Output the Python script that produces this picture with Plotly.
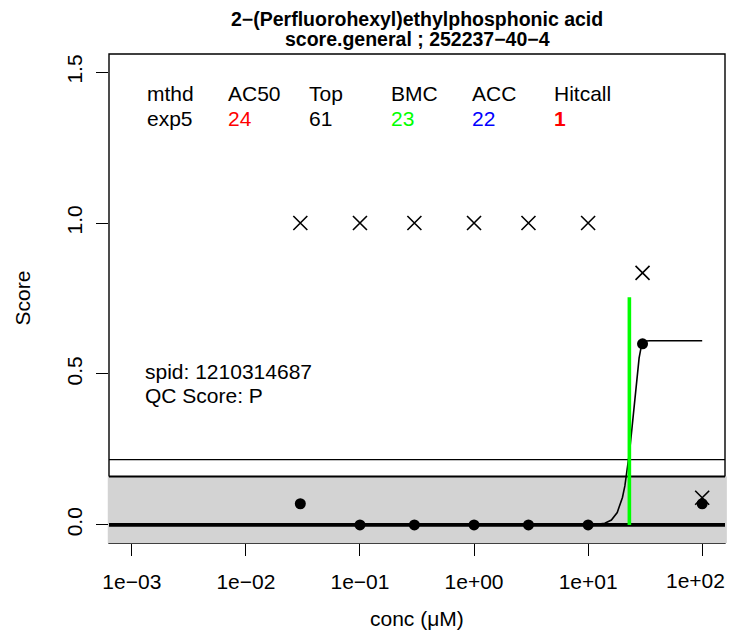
import plotly.graph_objects as go

# ---- data ----
conc_pts = [0.03, 0.1, 0.3, 1, 3, 10, 30, 100]
score_pts = [0.07, 0.0, 0.0, 0.0, 0.0, 0.0, 0.60, 0.07]          # filled dots
score_raw = [1.0, 1.0, 1.0, 1.0, 1.0, 1.0, 0.835, 0.09]          # crosses

curve_conc = [0.03, 1, 10, 12, 14, 16, 18, 20, 21, 22, 23, 24, 25, 26, 27, 28, 29, 30, 32, 35, 100]
curve_score = [0.0, 0.0, 0.0004, 0.0016, 0.0057, 0.016, 0.041, 0.091, 0.129, 0.182, 0.238,
               0.305, 0.377, 0.446, 0.507, 0.553, 0.584, 0.600, 0.609, 0.61, 0.61]

band_top = 0.16
cutoff = 0.216
bmc = 23
bmc_top = 0.754

x_tickvals = [1e-3, 1e-2, 1e-1, 1e0, 1e1, 1e2]
x_ticktext = ["1e\u221203", "1e\u221202", "1e\u221201", "1e+00", "1e+01", "1e+02"]
y_tickvals = [0, 0.5, 1.0, 1.5]
y_ticktext = ["0.0", "0.5", "1.0", "1.5"]

header = ["mthd", "AC50", "Top", "BMC", "ACC", "Hitcall"]
values = ["exp5", "24", "61", "23", "22", "<b>1</b>"]
value_colors = ["black", "#FF0000", "black", "#00FF00", "#0000FF", "#FF0000"]

title1 = "2\u2212(Perfluorohexyl)ethylphosphonic acid"
title2 = "score.general ; 252237\u221240\u22124"
spid_text = "spid: 1210314687"
qc_text = "QC Score: P"

FONT = "Liberation Sans, Arial, Helvetica, sans-serif"
FS = 21

fig = go.Figure()

fig.add_trace(go.Scatter(x=curve_conc, y=curve_score, mode="lines",
                         line=dict(color="black", width=1.6), hoverinfo="skip", showlegend=False))
fig.add_trace(go.Scatter(x=conc_pts, y=score_raw, mode="markers",
                         marker=dict(symbol="x-thin-open", size=14, color="black",
                                     line=dict(color="black", width=1.6)),
                         showlegend=False))
fig.add_trace(go.Scatter(x=conc_pts, y=score_pts, mode="markers",
                         marker=dict(symbol="circle", size=11, color="black"),
                         showlegend=False))

shapes = [
    # plot frame
    dict(type="rect", xref="paper", yref="paper", x0=0, x1=1, y0=0, y1=1,
         line=dict(color="black", width=1.4), fillcolor="rgba(0,0,0,0)", layer="below"),
    # grey band
    dict(type="rect", xref="paper", yref="y", x0=-0.002, x1=1.003, y0=-0.0625, y1=band_top,
         line=dict(width=0), fillcolor="#D3D3D3", layer="below"),
    dict(type="line", xref="paper", yref="y", x0=0, x1=1, y0=band_top, y1=band_top,
         line=dict(color="black", width=2), layer="below"),
    dict(type="line", xref="paper", yref="y", x0=0, x1=1, y0=cutoff, y1=cutoff,
         line=dict(color="black", width=1.2), layer="below"),
    dict(type="line", xref="paper", yref="y", x0=0, x1=1, y0=0, y1=0,
         line=dict(color="black", width=3.6), layer="below"),
    dict(type="line", xref="x", yref="y", x0=bmc, x1=bmc, y0=0, y1=bmc_top,
         line=dict(color="#00FF00", width=3.6), layer="above"),
]

col_x = [0.0585, 0.1900, 0.3215, 0.4546, 0.5861, 0.7192]
ann = []
for i in range(len(header)):
    ann.append(dict(xref="paper", yref="paper", x=col_x[i], y=0.919, xanchor="left", yanchor="middle",
                    text=header[i], showarrow=False, font=dict(size=FS, color="black", family=FONT)))
    ann.append(dict(xref="paper", yref="paper", x=col_x[i], y=0.869, xanchor="left", yanchor="middle",
                    text=values[i], showarrow=False, font=dict(size=FS, color=value_colors[i], family=FONT)))
ann.append(dict(xref="paper", yref="paper", x=0.0552, y=0.3505, xanchor="left", yanchor="middle",
                text=spid_text, showarrow=False, font=dict(size=FS, color="black", family=FONT)))
ann.append(dict(xref="paper", yref="paper", x=0.0552, y=0.3016, xanchor="left", yanchor="middle",
                text=qc_text, showarrow=False, font=dict(size=FS, color="black", family=FONT)))
ann.append(dict(xref="paper", yref="paper", x=0.5, y=1.0715, xanchor="center", yanchor="middle",
                text="<b>" + title1 + "</b>", showarrow=False, font=dict(size=19.5, color="black", family=FONT)))
ann.append(dict(xref="paper", yref="paper", x=0.5, y=1.0307, xanchor="center", yanchor="middle",
                text="<b>" + title2 + "</b>", showarrow=False, font=dict(size=19.5, color="black", family=FONT)))
ann.append(dict(xref="paper", yref="paper", x=0.5, y=-0.1554, xanchor="center", yanchor="middle",
                text="conc (\u03bcM)", showarrow=False, font=dict(size=FS, color="black", family=FONT)))
ann.append(dict(xref="paper", yref="paper", x=-0.1412, y=0.5, xanchor="center", yanchor="middle",
                text="Score", textangle=-90, showarrow=False, font=dict(size=FS, color="black", family=FONT)))
# last x tick label would be hidden at the figure edge: draw it as a text right-aligned to the edge
ann.append(dict(xref="paper", yref="paper", x=1.0032, y=-0.0757, xanchor="right", yanchor="middle",
                text=x_ticktext[-1], showarrow=False, font=dict(size=FS, color="black", family=FONT)))

axis_ticktext = x_ticktext[:-1] + [""]

# page body has an 8px default margin on every side: the figure is sized so the page does not overflow
fig.update_layout(
    width=719, height=622, autosize=False,
    margin=dict(l=101, r=2, t=46, b=87, pad=0),
    paper_bgcolor="white", plot_bgcolor="white",
    shapes=shapes, annotations=ann, showlegend=False,
    font=dict(family=FONT, size=FS, color="black"),
    xaxis=dict(type="log", range=[-3.2, 2.2], tickvals=x_tickvals, ticktext=axis_ticktext,
               showgrid=False, zeroline=False, showline=False, ticks="outside",
               ticklen=12, tickwidth=1.3, tickcolor="black",
               tickfont=dict(size=FS, family=FONT, color="black"), ticklabelstandoff=8),
    yaxis=dict(range=[-0.06, 1.56], tickvals=y_tickvals, ticktext=y_ticktext, tickangle=-90,
               showgrid=False, zeroline=False, showline=False, ticks="outside",
               ticklen=12, tickwidth=1.3, tickcolor="black",
               tickfont=dict(size=FS, family=FONT, color="black"), ticklabelstandoff=6),
)

fig.write_html("out.html")
